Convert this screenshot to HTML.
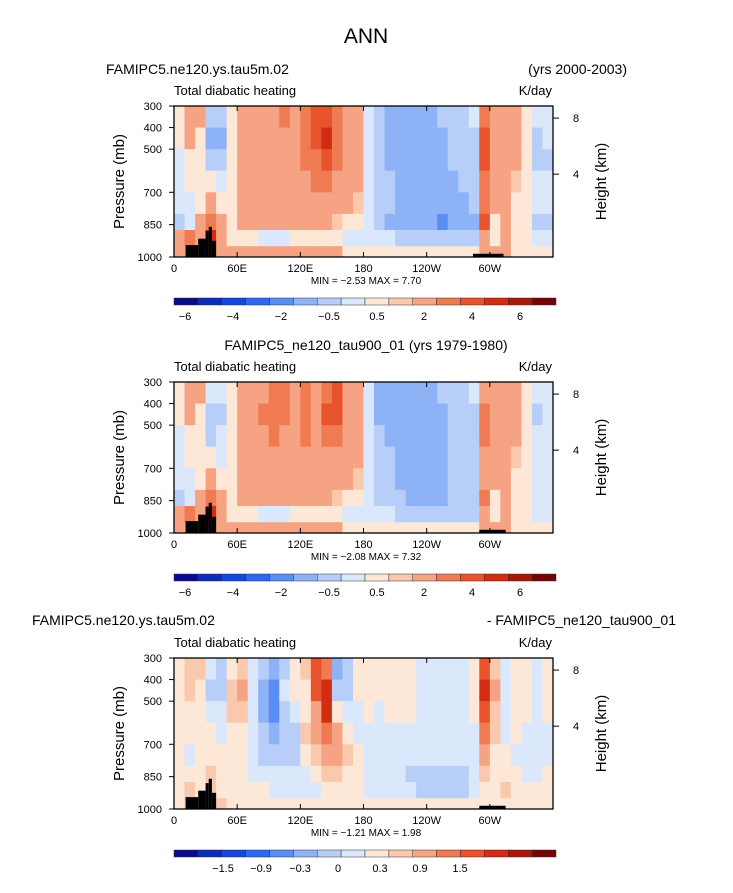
<!DOCTYPE html>
<html><head><meta charset="utf-8"><style>
body{margin:0;background:#fff;}
svg text{font-family:"Liberation Sans","DejaVu Sans",sans-serif;fill:#000;}
</style></head><body>
<svg id="c" width="733" height="888" xmlns="http://www.w3.org/2000/svg"></svg>
<script>
const lonEdges=[0,10,20,30,40,50,60,70,80,90,100,110,120,130,140,150,160,170,180,190,200,210,220,230,240,250,260,270,280,290,300,310,320,330,340,350,360];
const presEdges=[300,400,500,600,700,800,875,950,1000];
const xTicks=[0,60,120,180,240,300];
const xTickLabels=["0","60E","120E","180","120W","60W"];
const pTicks=[300,400,500,700,850,1000];
const hTicks=[[8,356],[4,616]];
const colors=["#0a0a8c","#0b2db4","#1448d8","#2d69ef","#5a8ef4","#8eb2f6","#b7cff8","#dbe8fb","#fde8d8","#f9c8ad","#f5a382","#f07a52","#e8532c","#d22c12","#a71907","#760202"];
const levelsA=[-6,-5,-4,-3,-2,-1,-0.5,0,0.5,1,2.5,3.5,4.5,5.5,6.5];
const levelsB=[-2.1,-1.8,-1.5,-1.2,-0.9,-0.6,-0.3,0,0.3,0.6,0.9,1.2,1.5,1.8,2.1];
const cbLabelsA=["−6","−4","−2","−0.5","0.5","2","4","6"];
const cbLabelsB=["−1.5","−0.9","−0.3","0","0.3","0.9","1.5"];
const cbLabelPosA=[185,233,281,329,377,424,472,520];
const cbLabelPosB=[223,261,300,338,380,420,460];
const topo1=[[11,23,945],[23,30,915],[30,33,880],[33,36,860],[36,40,925],[284,313,985]];
const topo2=[[11,23,945],[23,30,915],[30,33,880],[33,36,860],[36,40,925],[290,315,985]];
const heat1=[
[0.3,0.3,-0.3,-0.3,-0.3,-0.7,1.5,1],[1.5,1,0.3,0.3,-0.3,-0.3,3,2],[1,0.3,0.3,0.3,0.3,1,2,2],[-0.7,-1.5,-0.7,0.3,1,3,5,3],
[-0.7,-1.5,-0.7,-0.3,0.3,1,2,1],[0.3,0.3,0.3,0.3,0.3,0.3,0.3,1],[2,2,1.5,1.5,1.5,1,0.3,1],[2,2,2,1.5,1.5,1,0.3,1],
[2,2,2,1.5,1.5,1,-0.3,1],[2,2,2,2,1.5,1,-0.3,1],[3,2,2,2,2,1,-0.3,1],[2,2,2,2,2,1,0.3,1],
[3,3,3,2,2,1,0.3,1],[3.5,3.5,3,3,2,2,0.3,1],[4,5,4,3,2,1,0.3,1],[3,3,3,2,1,0.7,0.3,1],
[2,2,2,2,1,0.3,-0.3,0.3],[1,1,1,1,0.7,0.3,-0.3,0.3],[-0.3,-0.3,-0.3,-0.3,-0.3,-0.3,-0.3,0.3],[-0.7,-0.7,-1,-1,-1,-1,-0.3,0.3],
[-1.5,-1.5,-1.5,-1,-1,-1.5,-0.3,0.3],[-1.5,-1.5,-1.5,-1.5,-1.5,-1.5,-0.7,0.3],[-1.5,-1.5,-1.5,-1.5,-1.5,-1.5,-0.7,0.3],[-1.5,-1.5,-1.5,-1.5,-1.5,-1.5,-0.7,0.3],
[-1.5,-1.5,-1.5,-1.5,-1.5,-1.5,-0.7,0.3],[-1,-1.5,-1.5,-1.5,-1.5,-2.5,-0.7,0.3],[-1,-1,-1,-1.5,-1.5,-1.5,-0.7,0.3],[-0.7,-0.7,-1,-1,-1.5,-1.5,-0.7,0.3],
[-0.3,-0.7,-0.7,-0.7,-1,-1.5,-1,0.3],[3,4,4,3,3,4,1,1],[1.5,2,2,1.5,1,0.3,0.3,1],[2,2,1.5,1.5,1,1,2,1],
[1,1,1,0.7,0.3,0.3,0.3,0.3],[0.3,0.3,0.3,0.3,0.3,0.3,0.3,0.3],[-0.3,-0.7,-0.7,-0.3,-0.3,-0.7,-0.3,0.3],[-0.3,-0.3,-0.7,-0.3,-0.3,-1,-0.3,0.3]];
const heat2=[
[0.3,0.3,-0.3,-0.3,-0.3,-0.7,1,1],[1,1,0.3,0.3,-0.3,-0.3,3,2],[1,0.3,0.3,0.3,0.3,1,2,2],[-0.3,-0.7,-0.7,0.3,1,3,5,3],
[-0.3,-0.7,-0.3,-0.3,0.3,1,2,1],[0.3,0.3,0.3,0.3,0.3,0.3,0.3,1],[2,1.5,1.5,1.5,1.5,1,0.3,1],[2,2,2,1.5,1.5,1,0.3,1],
[2,2.5,2,2,1.5,1,-0.3,1],[2.5,3,2.5,2,1.5,1,-0.3,1],[3,3,2,2,2,1,-0.3,1],[2,2,2,2,2,1,0.3,1],
[3,3,3,2,2,1,0.3,1],[2,2,2,2,2,1.5,0.3,1],[3,3.5,3,2,1.5,1,0.3,1],[4,4,3,2,1,0.7,0.3,1],
[2,2,2,1.5,1,0.3,-0.3,0.3],[1,1,1,1,0.7,0.3,-0.3,0.3],[-0.3,-0.3,-0.3,-0.3,-0.3,-0.3,-0.3,0.3],[-1.5,-1.5,-1,-1,-1,-1,-0.3,0.3],
[-1.5,-1.5,-1.5,-1,-1,-1,-0.3,0.3],[-1.5,-1.5,-1.5,-1.5,-1.5,-1,-0.7,0.3],[-1.5,-1.5,-1.5,-1.5,-1.5,-1.5,-0.7,0.3],[-1.5,-1.5,-1.5,-1.5,-1.5,-1.5,-0.7,0.3],
[-1.5,-1.5,-1.5,-1.5,-1.5,-1.5,-0.7,0.3],[-1,-1.5,-1.5,-1.5,-1.5,-1.5,-0.7,0.3],[-0.7,-1,-1,-1,-1,-1,-0.7,0.3],[-0.7,-0.7,-0.7,-1,-1,-1,-0.7,0.3],
[-0.3,-0.7,-0.7,-0.7,-0.7,-1,-1,0.3],[2,3,3,2,2,3,1,1],[1.5,2,2,1.5,1,0.3,0.3,1],[2,2,1.5,1.5,1,1,1.5,1],
[1,1,1,0.7,0.3,0.3,0.3,0.3],[0.3,0.3,0.3,0.3,0.3,0.3,0.3,0.3],[-0.3,-0.7,-0.3,-0.3,-0.3,-0.3,-0.3,0.3],[-0.3,-0.3,-0.3,-0.3,-0.3,-0.3,-0.3,0.3]];
const heat3=[
[0.1,0.1,0.1,0.1,0.1,0.1,0.2,0.2],[0.5,0.3,0.2,0.1,-0.1,0.1,0.3,0.3],[0.3,0.2,0.1,0.1,0.1,0.1,0.2,0.2],[-0.2,-0.4,-0.2,0.1,0.2,0.5,0.3,0.3],
[-0.4,-0.5,-0.3,-0.2,0.1,0.1,0.1,0.3],[0.2,0.4,0.3,0.2,0.1,0.1,0.1,0.2],[0.4,0.6,0.4,0.2,0.1,0.1,0.1,0.2],[-0.2,-0.3,-0.2,-0.1,-0.2,-0.1,0.1,0.2],
[-0.5,-0.9,-0.7,-0.6,-0.4,-0.2,0.1,0.2],[-0.9,-1.2,-1,-0.7,-0.5,-0.3,-0.1,0.2],[-0.4,-0.3,-0.4,-0.6,-0.4,-0.3,-0.1,0.2],[0.2,0.1,-0.3,-0.4,-0.4,-0.3,-0.1,0.2],
[0.3,0.2,0.1,0.3,0.2,-0.1,-0.1,0.2],[1.2,1.2,0.8,0.6,0.3,0.1,-0.1,0.2],[1.0,1.5,1.5,1.0,0.7,0.3,0.1,0.2],[-0.9,-0.6,0.1,0.6,0.8,0.4,0.1,0.2],
[-0.6,-0.4,-0.2,0.1,0.3,0.2,0.1,0.2],[0.1,0.1,-0.1,-0.1,0.1,0.1,0.1,0.2],[0.1,0.1,0.1,-0.1,-0.1,-0.1,-0.1,0.2],[0.1,0.1,-0.1,-0.2,-0.2,-0.2,-0.1,0.2],
[0.1,0.1,0.1,-0.1,-0.2,-0.3,-0.2,0.2],[0.1,0.1,0.1,-0.1,-0.2,-0.3,-0.2,0.2],[0.1,0.1,0.1,-0.1,-0.2,-0.4,-0.3,0.2],[-0.1,-0.2,-0.2,-0.2,-0.3,-0.4,-0.4,0.2],
[-0.2,-0.2,-0.2,-0.3,-0.3,-0.4,-0.5,0.2],[-0.2,-0.3,-0.2,-0.3,-0.3,-0.6,-0.4,0.2],[-0.1,-0.2,-0.2,-0.2,-0.3,-0.5,-0.6,0.2],[-0.1,-0.1,-0.1,-0.2,-0.2,-0.4,-0.5,0.2],
[0.1,0.1,0.1,-0.1,-0.1,-0.2,-0.3,0.2],[1.2,1.5,1.2,0.9,0.6,0.4,0.2,0.2],[0.4,0.6,0.4,0.3,0.2,0.1,0.1,0.2],[-0.2,-0.3,-0.2,-0.1,0.1,0.2,0.3,0.2],
[0.1,0.1,0.2,0.1,-0.1,0.1,0.1,0.2],[0.1,0.1,0.1,-0.1,-0.2,-0.2,0.1,0.2],[-0.2,-0.3,-0.2,-0.1,-0.1,-0.1,0.1,0.2],[0.1,0.1,0.1,-0.1,-0.1,0.1,0.1,0.2]];

const NS="http://www.w3.org/2000/svg";
const svg=document.getElementById('c');
function el(tag,attrs,parent,txt){const e=document.createElementNS(NS,tag);for(const k in attrs)e.setAttribute(k,attrs[k]);if(txt!==undefined)e.textContent=txt;(parent||svg).appendChild(e);return e;}
const X0=174,X1=553;
function xs(lon){return X0+(lon/360)*(X1-X0);}
function colorFor(v,levels){let i=0;while(i<levels.length&&v>=levels[i])i++;return colors[i];}
el('text',{x:366,y:43,'font-size':21,'text-anchor':'middle',},svg,'ANN');

function panel(top,data,levels,cbLabels,cbPos,topo,minmax,name){
  const H=151;
  const ys=p=>top+(p-300)/700*H;
  const g=el('g',{});
  
  
  for(let c=0;c<data.length;c++)for(let r=0;r<data[c].length;r++){
    const x=xs(lonEdges[c]),w=xs(lonEdges[c+1])-x,y=ys(presEdges[r]),h=ys(presEdges[r+1])-y;
    const rc=el('rect',{x:x,y:y,width:w+0.4,height:h+0.4,fill:colorFor(data[c][r],levels)},g);
    
    
  }
  topo.forEach(t=>{const r=el('rect',{x:xs(t[0]),y:ys(t[2]),width:xs(t[1])-xs(t[0]),height:ys(1000)-ys(t[2]),fill:'#000'},g);
    });
  el('rect',{x:X0,y:top,width:X1-X0,height:H,fill:'none',stroke:'#000','stroke-width':1.3,},g);
  xTicks.forEach((t,i)=>{const x=xs(t);
    el('line',{x1:x,x2:x,y1:top+H,y2:top+H-5,stroke:'#000'},g);
    el('line',{x1:x,x2:x,y1:top,y2:top+5,stroke:'#000'},g);
    const tx=el('text',{x:x,y:top+H+15,'font-size':11,'text-anchor':'middle'},g,xTickLabels[i]);
    });
  pTicks.forEach(p=>{const y=ys(p);
    el('line',{x1:X0,x2:X0-5,y1:y,y2:y,stroke:'#000'},g);
    const tx=el('text',{x:X0-12,y:y+4,'font-size':11,'text-anchor':'end'},g,String(p));
    });
  hTicks.forEach(h=>{const y=ys(h[1]);
    el('line',{x1:X1,x2:X1+6,y1:y,y2:y,stroke:'#000'},g);
    el('text',{x:X1+20,y:y+4,'font-size':11},g,String(h[0]));});
  el('text',{x:124,y:top+H/2,'font-size':15,'text-anchor':'middle',transform:`rotate(-90 124 ${top+H/2})`,},g,'Pressure (mb)');
  el('text',{x:606,y:top+H/2,'font-size':15,'text-anchor':'middle',transform:`rotate(-90 606 ${top+H/2})`,},g,'Height (km)');
  el('text',{x:X0,y:top-11,'font-size':13,},g,'Total diabatic heating');
  el('text',{x:X1-1,y:top-11,'font-size':13,'text-anchor':'end',},g,'K/day');
  el('text',{x:366,y:top+H+27,'font-size':10,'text-anchor':'middle',},g,minmax);
  const cbY=top+192,cbX=174,cbW=382,cw=cbW/16;
  colors.forEach((c,i)=>{const r=el('rect',{x:cbX+i*cw,y:cbY,width:cw,height:7,fill:c,stroke:'#333','stroke-width':0.5},g);
    });
  cbLabels.forEach((l,i)=>{
    const t=el('text',{x:cbPos[i],y:cbY+22,'font-size':11,'text-anchor':'middle'},g,l);
    });
}
panel(106,heat1,levelsA,cbLabelsA,cbLabelPosA,topo1,'MIN =   −2.53   MAX =    7.70','panel-tau5m');
panel(382,heat2,levelsA,cbLabelsA,cbLabelPosA,topo2,'MIN =   −2.08   MAX =    7.32','panel-tau900');
panel(658,heat3,levelsB,cbLabelsB,cbLabelPosB,topo2,'MIN =   −1.21   MAX =    1.98','panel-difference');
el('text',{x:106,y:74,'font-size':14,},svg,'FAMIPC5.ne120.ys.tau5m.02');
el('text',{x:627,y:74,'font-size':14,'text-anchor':'end',},svg,'(yrs 2000-2003)');
el('text',{x:366,y:350,'font-size':14,'text-anchor':'middle',},svg,'FAMIPC5_ne120_tau900_01 (yrs 1979-1980)');
el('text',{x:32,y:625,'font-size':14,},svg,'FAMIPC5.ne120.ys.tau5m.02');
el('text',{x:676,y:625,'font-size':14,'text-anchor':'end',},svg,'- FAMIPC5_ne120_tau900_01');
</script>
</body></html>
